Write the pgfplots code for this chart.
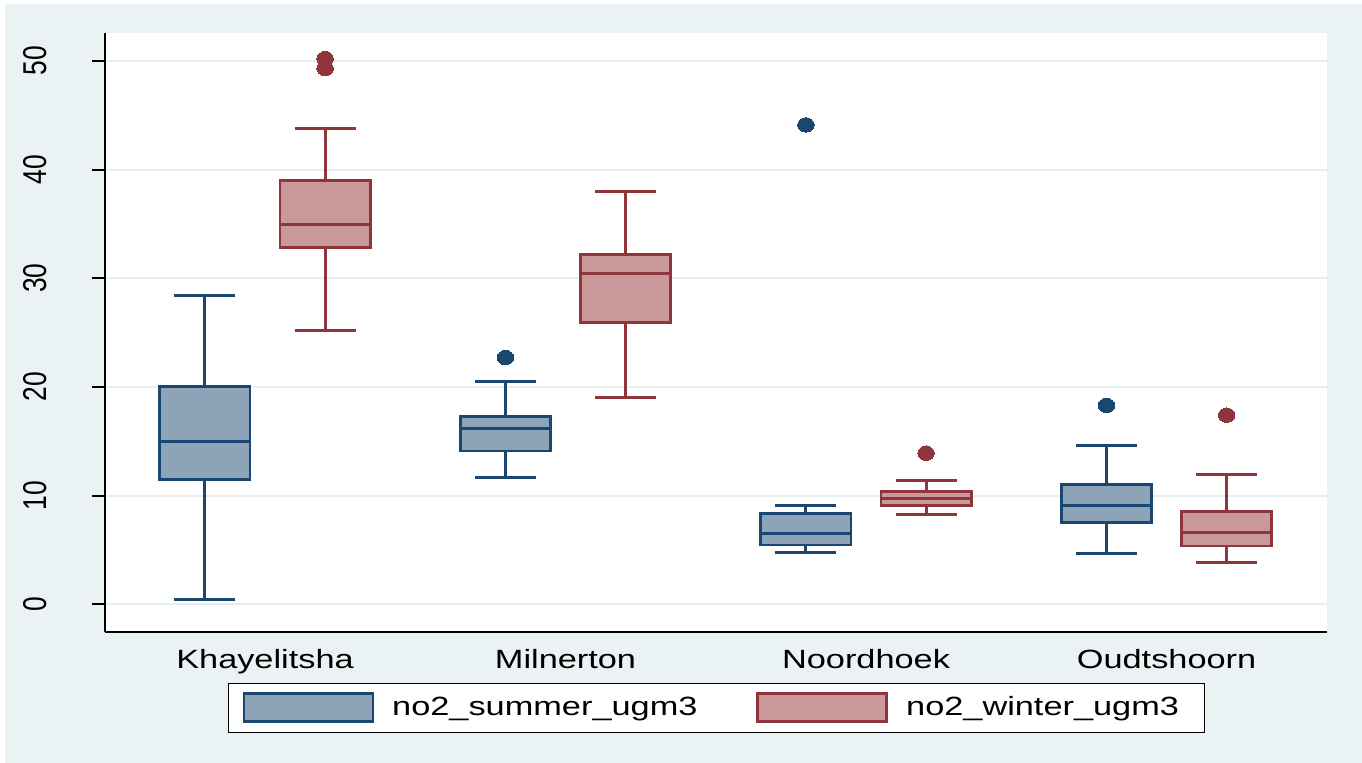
\documentclass[border=0pt]{standalone}
\usepackage{pgfplots}
\pgfplotsset{compat=1.18}
\usepgfplotslibrary{statistics}
\usepackage{graphicx}
\usepackage{fontspec}
\setmainfont{Liberation Sans}

\definecolor{sumline}{HTML}{1A476F}
\definecolor{sumfill}{HTML}{8DA3B8}
\definecolor{winline}{HTML}{90353B}
\definecolor{winfill}{HTML}{C8989B}
\definecolor{bgcol}{HTML}{EAF2F3}
\definecolor{gridcol}{HTML}{E6EEF0}

% wide glyphs, as in the graph's own rendering
\newcommand{\wide}[1]{\scalebox{1.3}[1]{#1}}
\newcommand{\tall}[1]{\scalebox{1}[1.25]{#1}}

\pgfplotsset{
  boxlines/.style={
    /pgfplots/boxplot/every whisker/.style={line width=1.5bp},
    /pgfplots/boxplot/every median/.style={line width=1.5bp},
    /pgfplots/boxplot/every box/.style={line width=1.4bp}},
  summer/.style={boxlines, draw=sumline, fill=sumfill, line width=1.4bp,
    mark=*, mark size=3.6bp,
    mark options={xscale=1.15, fill=sumline, draw=sumline, line width=0pt}},
  winter/.style={boxlines, draw=winline, fill=winfill, line width=1.4bp,
    mark=*, mark size=3.6bp,
    mark options={xscale=1.15, fill=winline, draw=winline, line width=0pt}},
}

\begin{document}
\begin{tikzpicture}
\fill[white] (0,0) rectangle (681bp,381.5bp);
\fill[bgcol] (2.5bp,0) rectangle (681bp,379.5bp);
\begin{axis}[
  at={(52.5bp,65.5bp)}, anchor=south west,
  scale only axis, width=611bp, height=299.5bp,
  xmin=0.4676, xmax=4.534, ymin=-2.55, ymax=52.56,
  axis x line*=bottom, axis y line*=left,
  axis line style={black, line width=1bp},
  axis background/.style={fill=white},
  ymajorgrids, grid style={color=gridcol, line width=1bp},
  xtick={1,2,3,4},
  xticklabels={\wide{Khayelitsha},\wide{Milnerton},\wide{Noordhoek},\wide{Oudtshoorn}},
  xtick style={draw=none},
  ytick={0,10,20,30,40,50},
  yticklabels={\tall{0},\tall{10},\tall{20},\tall{30},\tall{40},\tall{50}},
  ytick style={black, line width=1bp},
  tick align=outside, major tick length=6.5bp,
  tick label style={font=\fontsize{13.2bp}{15bp}\selectfont},
  yticklabel style={rotate=90, anchor=south, inner sep=0pt},
  yticklabel shift=22.5bp,
  xticklabel style={anchor=north, inner sep=0pt},
  xticklabel shift=2bp,
  boxplot/draw direction=y,
  boxplot/box extend=0.3,
  boxplot/whisker extend=0.203,
  legend columns=2,
  legend style={at={(0.1007,-0.0851)}, anchor=north west,
    draw=black, line width=0.5bp, fill=white,
    inner xsep=7bp, inner ysep=4.5bp,
    font=\fontsize{13.2bp}{15bp}\selectfont,
    nodes={inner sep=0pt, anchor=west}},
]
% Khayelitsha
\addplot[boxplot prepared={lower whisker=0.4, lower quartile=11.5, median=15.0,
    upper quartile=20.0, upper whisker=28.4, draw position=0.8},
  summer,
  legend image code/.code={\draw[draw=sumline, fill=sumfill, line width=1.3bp] (0bp,-7bp) rectangle (64.5bp,7bp); \path (73.5bp,0);}]
  coordinates {};
\addlegendentry{\wide{no2\_summer\_ugm3}\hspace*{29.5bp}}
\addplot[boxplot prepared={lower whisker=25.2, lower quartile=32.8, median=34.9,
    upper quartile=39.0, upper whisker=43.8, draw position=1.2},
  winter,
  legend image code/.code={\draw[draw=winline, fill=winfill, line width=1.3bp] (0bp,-7bp) rectangle (64.5bp,7bp); \path (73.5bp,0);}]
  coordinates {(0,50.2) (0,49.3)};
\addlegendentry{\wide{no2\_winter\_ugm3}\hspace*{5.5bp}}

% Milnerton
\addplot[boxplot prepared={lower whisker=11.7, lower quartile=14.1, median=16.2,
    upper quartile=17.3, upper whisker=20.5, draw position=1.8},
  summer, forget plot]
  coordinates {(0,22.7)};
\addplot[boxplot prepared={lower whisker=19.0, lower quartile=25.9, median=30.4,
    upper quartile=32.2, upper whisker=38.0, draw position=2.2},
  winter, forget plot]
  coordinates {};

% Noordhoek
\addplot[boxplot prepared={lower whisker=4.75, lower quartile=5.46, median=6.53,
    upper quartile=8.37, upper whisker=9.13, draw position=2.8},
  summer, forget plot]
  coordinates {(0,44.1)};
\addplot[boxplot prepared={lower whisker=8.28, lower quartile=9.07, median=9.7,
    upper quartile=10.4, upper whisker=11.4, draw position=3.2},
  winter, forget plot]
  coordinates {(0,13.9)};

% Oudtshoorn
\addplot[boxplot prepared={lower whisker=4.63, lower quartile=7.54, median=9.13,
    upper quartile=11.04, upper whisker=14.6, draw position=3.8},
  summer, forget plot]
  coordinates {(0,18.3)};
\addplot[boxplot prepared={lower whisker=3.86, lower quartile=5.36, median=6.59,
    upper quartile=8.52, upper whisker=11.96, draw position=4.2},
  winter, forget plot]
  coordinates {(0,17.4)};
\end{axis}
\end{tikzpicture}
\end{document}
